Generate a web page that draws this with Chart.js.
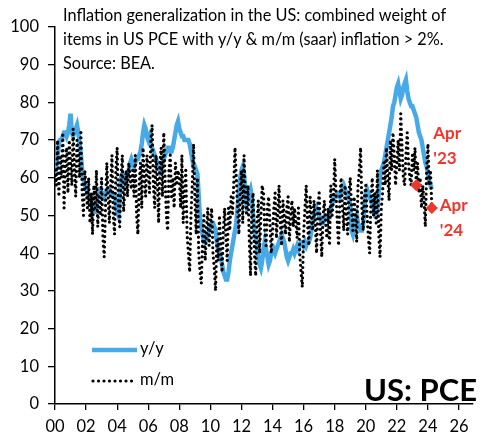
<!DOCTYPE html>
<html lang="en">
<head>
    <meta charset="UTF-8">
    <title>US PCE inflation generalization</title>
    <script src="https://cdn.jsdelivr.net/npm/chart.js"></script>
    <style>
        body { margin: 0; background: #fff; }
    </style>
</head>
<body>
    <canvas id="myChart" width="500" height="445"></canvas>

    <script>
        // monthly data, Jan 2000 - Apr 2024
        var startYear = 2000;

        // y/y: weight of items with y/y inflation > 2%
        var yoy = [
            61, 63, 66, 69, 70, 70, 71, 72, 72, 71, 72, 74,
            77, 72, 71, 72, 73, 74, 72, 69, 66, 62, 60, 58,
            57, 56, 55, 54, 53, 52, 51, 51, 53, 55, 57, 57,
            56, 56, 55, 56, 56, 57, 57, 56, 56, 55, 55, 53,
            51, 50, 55, 60, 61, 60, 59, 60, 61, 62, 64, 65,
            64, 63, 64, 65, 65, 66, 67, 69, 72, 74, 73, 71,
            70, 71, 69, 68, 67, 66, 65, 64, 63, 62, 63, 64,
            65, 66, 67, 68, 68, 67, 67, 68, 70, 72, 74, 75,
            73, 72, 71, 71, 70, 70, 70, 70, 69, 67, 65, 63,
            63, 62, 61, 55, 49, 47, 45, 43, 43, 44, 45, 46,
            47, 48, 48, 47, 46, 43, 41, 40, 39, 37, 35, 34,
            33, 33, 35, 38, 40, 42, 44, 46, 48, 52, 56, 60,
            62, 63, 61, 56, 53, 54, 56, 57, 55, 50, 46, 44,
            42, 39, 37, 36, 38, 41, 43, 41, 39, 37, 38, 40,
            40, 41, 40, 41, 42, 43, 44, 45, 44, 43, 41, 39,
            38, 39, 40, 40, 41, 40, 41, 42, 41, 42, 43, 43,
            42, 43, 42, 43, 43, 44, 46, 48, 50, 51, 52, 51,
            50, 49, 48, 48, 49, 50, 50, 49, 50, 52, 53, 54,
            55, 55, 56, 56, 55, 56, 57, 58, 57, 56, 55, 54,
            53, 46, 45, 47, 49, 50, 48, 47, 46, 46, 48, 52,
            56, 57, 56, 55, 54, 53, 52, 50, 50, 52, 56, 60,
            62, 63, 64, 66, 68, 70, 72, 74, 76, 79, 80, 82,
            84, 85, 83, 81, 82, 84, 85, 86, 83, 81, 80, 79,
            79, 78, 77, 76, 74, 72, 71, 70, 68, 66, 64, 63,
            61, 59, 58, 57
        ];

        // m/m (saar)
        var mom = [
            62, 58, 70, 55, 66, 60, 72, 52, 64, 68, 56, 70,
            64, 58, 73, 62, 55, 70, 66, 60, 72, 56, 50, 62,
            58, 52, 60, 48, 56, 45, 58, 52, 62, 47, 55, 50,
            60, 44, 39, 52, 64, 55, 48, 58, 66, 50, 45, 62,
            68, 52, 47, 60, 66, 51, 58, 62, 55, 64, 60, 57,
            62, 55, 66, 50, 45, 58, 64, 52, 68, 60, 55, 66,
            62, 56, 70, 74, 58, 52, 66, 60, 48, 64, 68, 55,
            72, 60, 50, 46, 62, 66, 55, 60, 52, 64, 58, 62,
            60, 52, 66, 48, 56, 62, 45, 40, 35, 50, 58, 69,
            55, 45, 60, 40, 35, 32, 44, 50, 38, 46, 52, 42,
            48, 52, 40, 36, 30, 44, 38, 50, 42, 35, 46, 52,
            44, 38, 52, 46, 55, 50, 58, 68, 60, 52, 45, 56,
            62, 48, 66, 55, 50, 58, 44, 34, 52, 56, 40, 34,
            48, 54, 40, 50, 58, 56, 46, 42, 52, 55, 48, 40,
            46, 52, 56, 44, 50, 58, 48, 42, 54, 50, 45, 52,
            55, 43, 50, 54, 47, 52, 48, 44, 52, 40, 35, 31,
            45, 52, 58, 48, 42, 55, 50, 46, 54, 48, 40, 52,
            56, 46, 39, 50, 54, 48, 44, 52, 42, 58, 50, 54,
            65, 56, 48, 42, 55, 60, 52, 46, 58, 50, 45, 56,
            60, 52, 46, 55, 50, 43, 58, 62, 68, 52, 46, 55,
            58, 50, 44, 40, 54, 60, 50, 56, 48, 62, 45, 39,
            52, 56, 64, 58, 68, 60, 54, 70, 62, 72, 66, 58,
            64, 70, 62, 77, 68, 60, 58, 66, 72, 64, 60, 58,
            66, 62, 68, 58, 64, 56, 60, 52, 58, 54, 47, 62,
            69, 58, 62, 52
        ];

        // highlighted months (index into the arrays above)
        var markIndex = [279, 291];
        var markLabels = [["Apr", "'23"], ["Apr", "'24"]];

        var xTickLabels = ['00', '02', '04', '06', '08', '10', '12', '14', '16', '18', '20', '22', '24', '26'];
        var yTickLabels = ['0', '10', '20', '30', '40', '50', '60', '70', '80', '90', '100'];

        var titleLines = [
            'Inflation generalization in the US: combined weight of',
            'items in US PCE with y/y & m/m (saar) inflation > 2%.',
            'Source: BEA.'
        ];

        var blue = '#47a9e7';
        var red = '#f2352b';
        var fontName = 'Lato, "Open Sans", sans-serif';

        var months = yoy.map(function (v, i) { return startYear + i / 12; });

        // texts, legend and labels drawn on top
        var overlay = {
            id: 'overlay',
            afterDraw: function (chart) {
                var ctx = chart.ctx;
                var xs = chart.scales.x, ys = chart.scales.y;
                ctx.save();
                ctx.fillStyle = '#000';
                ctx.textBaseline = 'middle';
                ctx.textAlign = 'left';
                ctx.font = '16.3px ' + fontName;
                titleLines.forEach(function (t, i) {
                    ctx.fillText(t, 63, 16 + i * 24);
                });

                // legend
                ctx.strokeStyle = blue;
                ctx.lineWidth = 4.5;
                ctx.beginPath();
                ctx.moveTo(92, 350);
                ctx.lineTo(137, 350);
                ctx.stroke();
                ctx.strokeStyle = '#000';
                ctx.lineWidth = 3.2;
                ctx.lineCap = 'round';
                ctx.setLineDash([0, 5.5]);
                ctx.beginPath();
                ctx.moveTo(93, 381);
                ctx.lineTo(134, 381);
                ctx.stroke();
                ctx.setLineDash([]);
                ctx.font = '16.5px ' + fontName;
                ctx.fillText('y/y', 140, 349);
                ctx.fillText('m/m', 140, 380);

                // mark labels
                ctx.fillStyle = red;
                ctx.font = 'bold 17px ' + fontName;
                var offs = [[17, -52], [8, -2]];
                markIndex.forEach(function (idx, k) {
                    var px = xs.getPixelForValue(months[idx]) + offs[k][0];
                    var py = ys.getPixelForValue(mom[idx]) + offs[k][1];
                    ctx.fillText(markLabels[k][0], px, py);
                    ctx.fillText(markLabels[k][1], px, py + 25);
                });

                // corner label
                ctx.fillStyle = '#000';
                ctx.textAlign = 'right';
                ctx.textBaseline = 'alphabetic';
                ctx.font = 'bold 31px ' + fontName;
                ctx.fillText('US: PCE', 477, 401);
                ctx.restore();
            }
        };

        var tickFont = { family: fontName, size: 16.5 };

        var config = {
            type: 'line',
            data: {
                datasets: [
                    {
                        label: 'marks',
                        data: markIndex.map(function (i) { return { x: months[i], y: mom[i] }; }),
                        showLine: false,
                        pointStyle: 'rectRot',
                        pointRadius: 6,
                        backgroundColor: red,
                        borderColor: red,
                        borderWidth: 0,
                        order: 0
                    },
                    {
                        label: 'm/m',
                        data: months.map(function (x, i) { return { x: x, y: mom[i] }; }),
                        borderColor: '#000',
                        borderWidth: 3.2,
                        borderDash: [0, 5.2],
                        borderCapStyle: 'round',
                        pointRadius: 0,
                        tension: 0,
                        order: 1
                    },
                    {
                        label: 'y/y',
                        data: months.map(function (x, i) { return { x: x, y: yoy[i] }; }),
                        borderColor: blue,
                        borderWidth: 4.5,
                        pointRadius: 0,
                        tension: 0,
                        order: 2
                    }
                ]
            },
            options: {
                responsive: false,
                animation: false,
                layout: { padding: { top: 27, right: 27, left: 0, bottom: 0 } },
                plugins: {
                    legend: { display: false },
                    tooltip: { enabled: false }
                },
                scales: {
                    x: {
                        type: 'linear',
                        min: 2000,
                        max: 2026.9,
                        afterBuildTicks: function (s) {
                            s.ticks = xTickLabels.map(function (t, i) { return { value: startYear + 2 * i }; });
                        },
                        afterFit: function (s) { s.height = 41; },
                        ticks: {
                            callback: function (v, i) { return xTickLabels[i]; },
                            font: tickFont,
                            color: '#000',
                            maxRotation: 0,
                            autoSkip: false,
                            padding: 7
                        },
                        grid: { drawOnChartArea: false, tickLength: 6, color: '#000', lineWidth: 1.3 },
                        border: { color: '#000', width: 1.5 }
                    },
                    y: {
                        min: 0,
                        max: 100,
                        afterBuildTicks: function (s) {
                            s.ticks = yTickLabels.map(function (t, i) { return { value: 10 * i }; });
                        },
                        afterFit: function (s) { s.width = 55; },
                        ticks: {
                            callback: function (v, i) { return yTickLabels[i]; },
                            font: tickFont,
                            color: '#000',
                            padding: 9
                        },
                        grid: { drawOnChartArea: false, tickLength: 7, color: '#000', lineWidth: 1.3 },
                        border: { color: '#000', width: 1.5 }
                    }
                }
            },
            plugins: [overlay]
        };

        var ctx = document.getElementById('myChart').getContext('2d');
        var myChart = new Chart(ctx, config);
    </script>
</body>
</html>
